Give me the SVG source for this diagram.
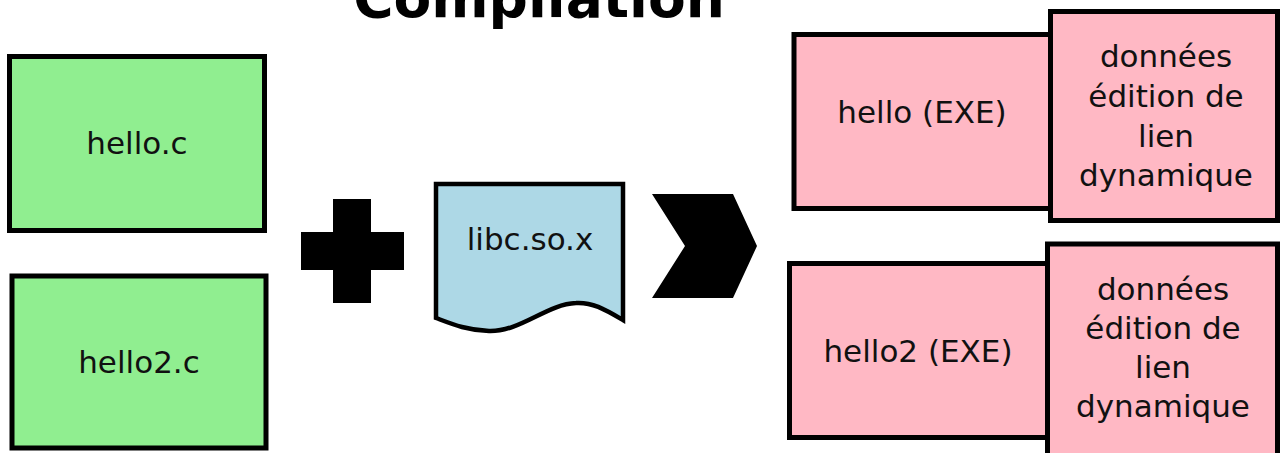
<svg xmlns="http://www.w3.org/2000/svg" width="1282" height="453" viewBox="0 0 1282 453">
  <style>
    text { font-family: "DejaVu Sans", "Liberation Sans", sans-serif; fill: #111; text-anchor: middle; }
    .lbl { font-size: 31px; }
    .title { font-size: 55px; font-weight: bold; fill: #000; }
    .box { stroke: #000; stroke-width: 5; }
    .src { fill: #90EE90; }
    .exe { fill: #FFB8C4; }
    .lib { fill: #ADD8E6; stroke: #000; stroke-width: 4.5; stroke-linejoin: miter; }
    .sym { fill: #000; }
  </style>

  <text class="title" x="539" y="17">Compilation</text>

  <!-- source files -->
  <g id="hello_c">
    <rect class="box src" x="9.5" y="56.5" width="255" height="174"/>
    <text class="lbl" x="137" y="154">hello.c</text>
  </g>
  <g id="hello2_c">
    <rect class="box src" x="12" y="276" width="254" height="172"/>
    <text class="lbl" x="139" y="373">hello2.c</text>
  </g>

  <!-- plus operator -->
  <g id="plus">
    <rect class="sym" x="301" y="232" width="103" height="38"/>
    <rect class="sym" x="333" y="199" width="38" height="104"/>
  </g>

  <!-- shared library document -->
  <g id="libc">
    <path class="lib" d="M436,184 L623,184 L623,320 C604,309 592,302 576,303 C547,304 520,332 489,331 C466,330 452,324 436,318 Z"/>
    <text class="lbl" x="530" y="250">libc.so.x</text>
  </g>

  <!-- result chevron -->
  <g id="chevron">
    <polygon class="sym" points="652,194 733,194 757,246 733,298 652,298 685,246"/>
  </g>

  <!-- executables with dynamic link data -->
  <g id="hello_exe">
    <rect class="box exe" x="794" y="34.5" width="260" height="174"/>
    <rect class="box exe" x="1050.5" y="11.5" width="227" height="209"/>
    <text class="lbl" x="922" y="123">hello (EXE)</text>
    <text class="lbl" x="1166" y="67">données</text>
    <text class="lbl" x="1166" y="107">édition de</text>
    <text class="lbl" x="1166" y="147">lien</text>
    <text class="lbl" x="1166" y="186">dynamique</text>
  </g>
  <g id="hello2_exe">
    <rect class="box exe" x="789.5" y="263.5" width="260" height="174"/>
    <rect class="box exe" x="1047.5" y="244" width="230" height="215"/>
    <text class="lbl" x="918" y="362">hello2 (EXE)</text>
    <text class="lbl" x="1163" y="300">données</text>
    <text class="lbl" x="1163" y="339">édition de</text>
    <text class="lbl" x="1163" y="378">lien</text>
    <text class="lbl" x="1163" y="417">dynamique</text>
  </g>

  <g id="connectors"/>
</svg>
